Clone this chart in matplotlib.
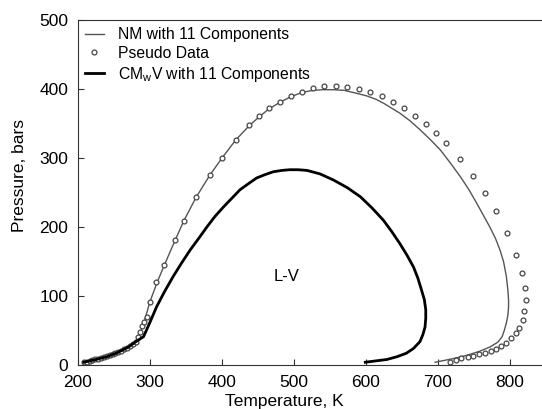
import matplotlib.pyplot as plt

plt.rcParams['font.family'] = ['Liberation Sans', 'DejaVu Sans']

# pseudo data (open circles)
pseudo_T = [208, 212, 216, 220, 224, 228, 232, 236, 240, 244, 248, 252, 256, 260,
            264, 268, 272, 276, 280, 283, 286, 289, 292, 296, 300, 309, 320, 335,
            347, 364, 383, 400, 419, 438, 452, 465, 481, 496, 511, 526, 542, 558,
            574, 590, 606, 622, 638, 653, 668, 683, 697, 711, 731, 749, 765, 781,
            796, 808, 817, 821, 822, 820, 818, 813, 808, 802, 795, 788, 781, 773,
            765, 757, 749, 741, 732, 725, 717]
pseudo_P = [4, 5, 6, 7, 8, 9, 10, 11, 12.5, 14, 15.5, 17, 19, 21,
            23, 25, 27.5, 30, 33, 40, 48, 56, 63, 70, 92, 120, 145, 181,
            209, 243, 275, 300, 326, 348, 361, 372, 381, 390, 396, 401, 404, 404,
            403, 400, 396, 390, 381, 372, 361, 349, 336, 322, 299, 274, 249, 223,
            191, 160, 133, 111, 94, 78, 65, 54, 46, 39, 32, 27.5, 23.7, 20.3,
            17.9, 15.5, 13, 11, 9.7, 7.7, 4.8]

# NM with 11 components (thin grey line)
nm_T = [208, 225, 240, 255, 270, 280, 286, 292, 300, 310, 320, 335, 347, 364,
        383, 400, 419, 438, 452, 465, 481, 496, 511, 526, 540, 555, 570, 586,
        601, 614, 625, 636, 647, 661, 675, 689, 703, 717, 731, 743, 754, 763,
        772, 780, 786, 791, 795, 797, 798, 798, 797, 795, 792, 789, 783, 772,
        758, 740, 720, 696]
nm_P = [4, 8, 12, 18, 26, 33, 45, 63, 92, 120, 145, 181, 209, 243,
        275, 300, 326, 347, 360, 371, 381, 389, 395, 398, 399, 399, 398, 394,
        390, 385, 379, 372, 365, 354, 341, 327, 312, 293, 273, 254, 234, 217,
        200, 183, 167, 150, 128, 109, 95, 84, 72, 61, 50, 41, 33, 26,
        20, 14, 9, 4]

# CMwV with 11 components (thick black line)
cm_T = [208, 225, 240, 255, 270, 282, 291, 300, 309, 320, 332, 344, 356, 368,
        379, 390, 402, 414, 425, 437, 448, 460, 471, 483, 494, 506, 518, 536,
        555, 574, 592, 608, 624, 636, 647, 657, 666, 672, 677, 681, 683, 683,
        682, 679, 675, 666, 656, 643, 629, 614, 599]
cm_P = [4, 8, 12, 18, 26, 35, 41, 62, 84, 106, 128, 148, 167, 184,
        200, 215, 229, 242, 254, 263, 271, 276, 280, 282, 283, 283, 282, 277,
        268, 257, 244, 228, 210, 193, 176, 159, 142, 126, 109, 95, 80, 68,
        55, 44, 34, 24, 17, 12, 8, 6, 4]

fig = plt.figure(figsize=(5.42, 4.09), dpi=100)
ax = fig.add_axes([78/542, 44/409, 468/542, 345/409])

ax.plot(nm_T, nm_P, color='#555555', lw=1.0, label='NM with 11 Components')
ax.plot(pseudo_T, pseudo_P, ls='none', marker='o', ms=3.5, mfc='white',
        mec='#444444', mew=0.9, label='Pseudo Data')
ax.plot(cm_T, cm_P, color='black', lw=2.0, label='CM$_\\mathregular{w}$V with 11 Components')

ax.text(490, 128, 'L-V', fontsize=12, ha='center', va='center')

ax.set_xlim(200, 850)
ax.set_ylim(0, 500)
ax.set_xticks(range(200, 900, 100))
ax.set_yticks(range(0, 600, 100))
ax.tick_params(direction='in', labelsize=12.5, length=4, color='#333333', pad=7)
for s in ax.spines.values():
    s.set_color('#333333')
ax.set_xlabel('Temperature, K', fontsize=12.5)
ax.xaxis.set_label_coords(0.44, -0.085)
ax.set_ylabel('Pressure, bars', fontsize=12.5)
ax.yaxis.set_label_coords(-0.109, 0.55)

ax.legend(loc='upper left', frameon=False, fontsize=11.3, handlelength=1.2,
          handletextpad=0.9, borderaxespad=0.05, labelspacing=0.25,
          bbox_to_anchor=(0.0, 1.0))

fig.savefig('out.png', dpi=100)
